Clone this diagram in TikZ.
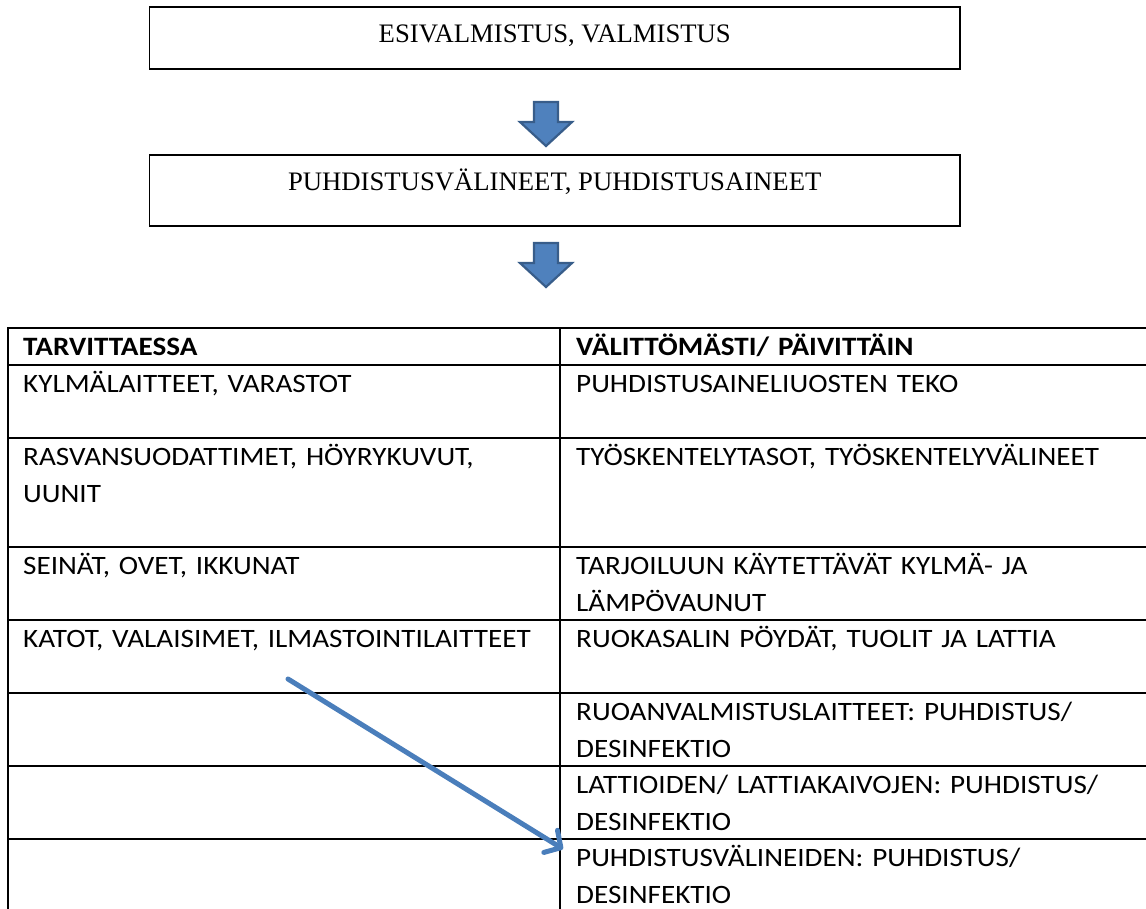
\documentclass[tikz,border=0pt]{standalone}
\usepackage{fontspec}
\setmainfont{Liberation Serif}
\newfontfamily\calfont[FakeStretch=1.1]{Carlito}
\usetikzlibrary{arrows.meta}
\definecolor{arrowblue}{HTML}{4F81BD}
\definecolor{arrowedge}{HTML}{385D8A}
\definecolor{linkblue}{HTML}{4A7EBB}
\newcommand{\celltop}{\rule{0pt}{27.5pt}}
\tikzset{
  flowbox/.style={draw=black, line width=1.3pt, rectangle, inner sep=0pt,
    minimum width=810.5pt, font=\fontsize{26.7}{32}\selectfont},
  blockdown/.pic={\draw[draw=arrowedge, fill=arrowblue, line width=2.2pt, line join=miter]
    (-12,0) -- (12,0) -- (12,20) -- (26,20) -- (0,44) -- (-26,20) -- (-12,20) -- cycle;},
  tableline/.style={draw=black, line width=2pt},
  cell/.style={anchor=north west, inner sep=0pt, text width=540pt, align=left,
    font=\calfont\fontsize{26.5}{36.5}\selectfont},
  headcell/.style={cell, font=\calfont\bfseries\fontsize{26.5}{36.5}\selectfont},
  linkarrow/.style={draw=linkblue, line width=5pt, line cap=round,
    -{Straight Barb[length=12pt, width=26pt, line cap=round, line join=round]}},
}
\begin{document}
\begin{tikzpicture}[x=1pt, y=-1pt]
\useasboundingbox (0,0) rectangle (1146,909);
% flow boxes
\node[flowbox, minimum height=62pt, text height=18pt, text depth=8pt] (prep) at (554.75,38) {ESIVALMISTUS, VALMISTUS};
\node[flowbox, minimum height=71pt, text height=18pt, text depth=17pt] (clean) at (554.75,190.5) {PUHDISTUSVÄLINEET, PUHDISTUSAINEET};
% block arrows
\pic at (546,102) {blockdown};
\pic at (546,243) {blockdown};
% table grid
\coordinate (tl) at (8,328);
\coordinate (tm) at (560,328);
\coordinate (bl) at (8,909);
\coordinate (bm) at (560,909);
\foreach \r in {328,365,438,547,620,693,766,839}{
  \draw[tableline] (7,\r) -- (1146,\r);
}
\draw[tableline] (tl) -- (bl);
\draw[tableline] (tm) -- (bm);
% header
\node[headcell] (h1) at (23,328) {\celltop TARVITTAESSA};
\node[headcell] (h2) at (576,328) {\celltop VÄLITTÖMÄSTI/ PÄIVITTÄIN};
% left column
\node[cell] (l1) at (23,365) {\celltop KYLMÄLAITTEET, VARASTOT};
\node[cell] (l2) at (23,438) {\celltop RASVANSUODATTIMET, HÖYRYKUVUT,\\UUNIT};
\node[cell] (l3) at (23,547) {\celltop SEINÄT, OVET, IKKUNAT};
\node[cell] (l4) at (23,620) {\celltop KATOT, VALAISIMET, ILMASTOINTILAITTEET};
% right column
\node[cell] (r1) at (576,365) {\celltop PUHDISTUSAINELIUOSTEN TEKO};
\node[cell] (r2) at (576,438) {\celltop TYÖSKENTELYTASOT, TYÖSKENTELYVÄLINEET};
\node[cell] (r3) at (576,547) {\celltop TARJOILUUN KÄYTETTÄVÄT KYLMÄ- JA\\LÄMPÖVAUNUT};
\node[cell] (r4) at (576,620) {\celltop RUOKASALIN PÖYDÄT, TUOLIT JA LATTIA};
\node[cell] (r5) at (576,693) {\celltop RUOANVALMISTUSLAITTEET: PUHDISTUS/\\DESINFEKTIO};
\node[cell] (r6) at (576,766) {\celltop LATTIOIDEN/ LATTIAKAIVOJEN: PUHDISTUS/\\DESINFEKTIO};
\node[cell] (r7) at (576,839) {\celltop PUHDISTUSVÄLINEIDEN: PUHDISTUS/\\DESINFEKTIO};
% diagonal arrow
\coordinate (ds) at (288,679);
\coordinate (de) at (563,849);
\draw[linkarrow] (ds) -- (de);
\end{tikzpicture}
\end{document}
